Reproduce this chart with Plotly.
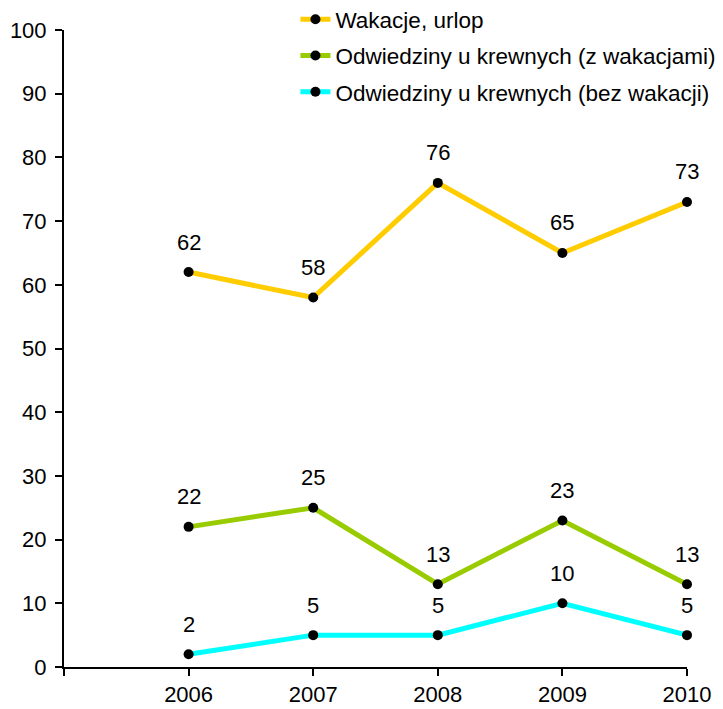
import plotly.graph_objects as go

years = [2006, 2007, 2008, 2009, 2010]
wakacje = [62, 58, 76, 65, 73]
z_wakacjami = [22, 25, 13, 23, 13]
bez_wakacji = [2, 5, 5, 10, 5]

names = ["Wakacje, urlop", "Odwiedziny u krewnych (z wakacjami)", "Odwiedziny u krewnych (bez wakacji)"]
series = [wakacje, z_wakacjami, bez_wakacji]
colors = ["#FFCC00", "#99CC00", "#00FFFF"]

FONT = "Liberation Sans, Arial"
fig = go.Figure()
annotations = []
for i, (nm, vals, col) in enumerate(zip(names, series, colors)):
    fig.add_trace(go.Scatter(
        x=years, y=vals, name=nm, mode="lines+markers",
        line=dict(color=col, width=5),
        marker=dict(color="black", size=10),
        legendgroup=f"g{i}",
        cliponaxis=False,
    ))
    for x, v in zip(years, vals):
        annotations.append(dict(x=x, y=v, text=str(v), showarrow=False,
                                yshift=30, font=dict(size=22, color="black", family=FONT)))

fig.update_layout(
    width=715, height=701,
    margin=dict(l=56, r=36, t=22, b=42, autoexpand=False),
    plot_bgcolor="white", paper_bgcolor="white",
    font=dict(family=FONT, size=22, color="black"),
    showlegend=True,
    legend=dict(x=0.3715, y=1.05, xanchor="left", yanchor="top",
                bgcolor="rgba(0,0,0,0)", font=dict(size=22.5),
                tracegroupgap=4, itemwidth=30),
    annotations=annotations,
)
fig.update_xaxes(range=[2005, 2010], tickvals=[2005, 2006, 2007, 2008, 2009, 2010],
                 ticktext=["", "2006", "2007", "2008", "2009", "2010"],
                 showgrid=False, zeroline=False, showline=True, linecolor="black",
                 linewidth=2, ticks="outside", ticklen=7, tickwidth=2, tickcolor="black",
                 ticklabelstandoff=0, automargin=False)
fig.update_yaxes(range=[0, 100], tickvals=list(range(0, 101, 10)),
                 showgrid=False, zeroline=False, showline=True, linecolor="black",
                 linewidth=2, ticks="outside", ticklen=7, tickwidth=2, tickcolor="black",
                 ticklabelstandoff=4, automargin=False)

fig.write_html("out.html")
